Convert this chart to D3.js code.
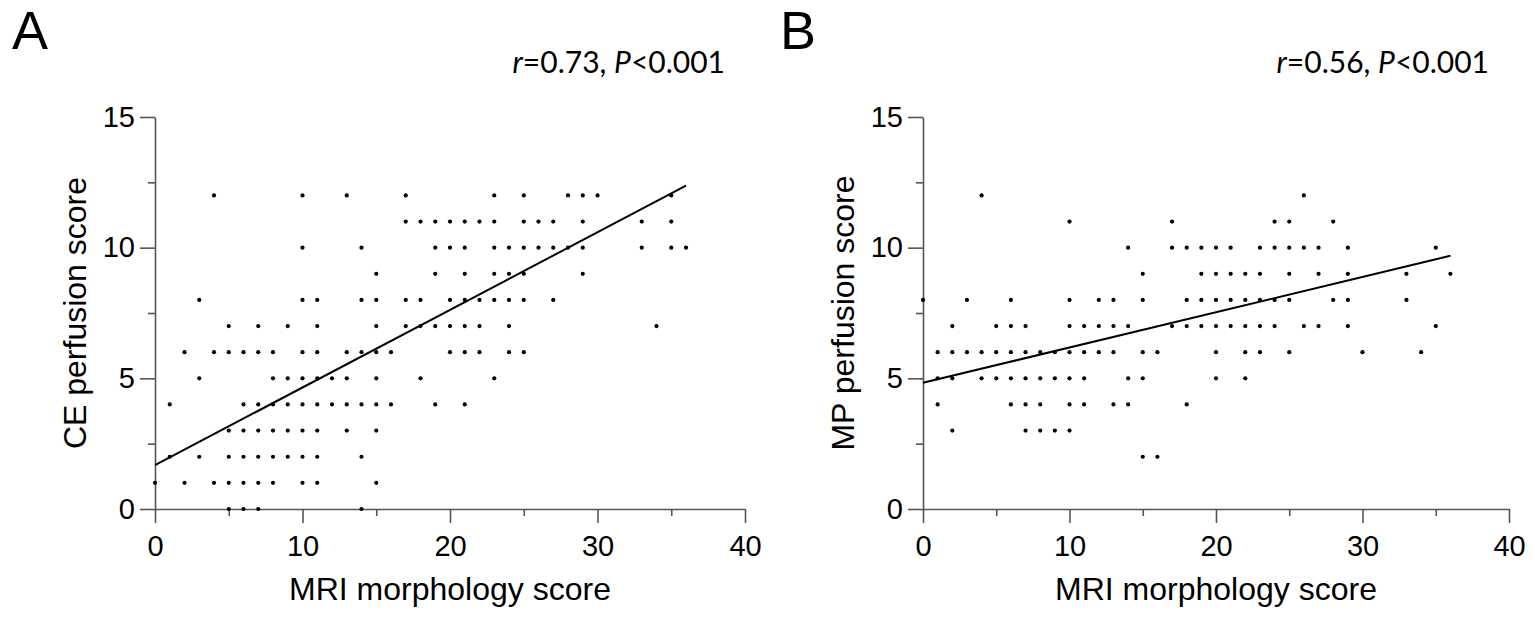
<!DOCTYPE html>
<html>
<head>
<meta charset="utf-8">
<script src="https://cdn.jsdelivr.net/npm/d3@7"></script>
<style>
  body { margin: 0; background: #fff; }
  text { font-family: "Liberation Sans", Arial, sans-serif; fill: #000; }
</style>
</head>
<body>
<div id="chart"></div>
<script>
// MRI morphology score vs CE perfusion score, panel A  ([x, y])
var pointsA = [
  [4,12],[10,12],[13,12],[17,12],[23,12],[25,12],[28,12],[29,12],[30,12],[35,12],
  [17,11],[18,11],[19,11],[20,11],[21,11],[22,11],[23,11],[25,11],[26,11],[27,11],[29,11],[33,11],[35,11],
  [10,10],[14,10],[19,10],[20,10],[21,10],[23,10],[24,10],[25,10],[26,10],[27,10],[28,10],[29,10],[33,10],[35,10],[36,10],
  [15,9],[19,9],[21,9],[23,9],[24,9],[25,9],[29,9],
  [3,8],[10,8],[11,8],[14,8],[15,8],[17,8],[18,8],[20,8],[21,8],[22,8],[23,8],[24,8],[25,8],[27,8],
  [5,7],[7,7],[9,7],[11,7],[15,7],[17,7],[18,7],[19,7],[20,7],[21,7],[22,7],[24,7],[34,7],
  [2,6],[4,6],[5,6],[6,6],[7,6],[8,6],[10,6],[11,6],[13,6],[14,6],[15,6],[16,6],[20,6],[21,6],[22,6],[24,6],[25,6],
  [3,5],[8,5],[9,5],[10,5],[11,5],[12,5],[13,5],[15,5],[18,5],[23,5],
  [1,4],[6,4],[7,4],[8,4],[9,4],[10,4],[11,4],[12,4],[13,4],[14,4],[15,4],[16,4],[19,4],[21,4],
  [5,3],[6,3],[7,3],[8,3],[9,3],[10,3],[11,3],[13,3],[15,3],
  [1,2],[3,2],[5,2],[6,2],[7,2],[8,2],[9,2],[10,2],[11,2],[14,2],
  [0,1],[2,1],[4,1],[5,1],[6,1],[7,1],[8,1],[10,1],[11,1],[15,1],
  [5,0],[6,0],[7,0],[14,0]
];

// MRI morphology score vs MP perfusion score, panel B
var pointsB = [
  [4,12],[26,12],
  [10,11],[17,11],[24,11],[25,11],[28,11],
  [14,10],[17,10],[18,10],[19,10],[20,10],[21,10],[23,10],[24,10],[25,10],[26,10],[27,10],[29,10],[35,10],
  [15,9],[19,9],[20,9],[21,9],[22,9],[23,9],[25,9],[27,9],[29,9],[33,9],[36,9],
  [0,8],[3,8],[6,8],[10,8],[12,8],[13,8],[15,8],[18,8],[19,8],[20,8],[21,8],[22,8],[23,8],[24,8],[25,8],[28,8],[29,8],[33,8],
  [2,7],[5,7],[6,7],[7,7],[10,7],[11,7],[12,7],[13,7],[14,7],[17,7],[18,7],[19,7],[20,7],[21,7],[22,7],[23,7],[24,7],[26,7],[27,7],[29,7],[35,7],
  [1,6],[2,6],[3,6],[4,6],[5,6],[6,6],[7,6],[8,6],[9,6],[10,6],[11,6],[12,6],[13,6],[15,6],[16,6],[20,6],[22,6],[23,6],[25,6],[30,6],[34,6],
  [1,5],[2,5],[4,5],[5,5],[6,5],[7,5],[8,5],[9,5],[10,5],[11,5],[14,5],[15,5],[20,5],[22,5],
  [1,4],[6,4],[7,4],[8,4],[10,4],[11,4],[13,4],[14,4],[18,4],
  [2,3],[7,3],[8,3],[9,3],[10,3],
  [15,2],[16,2]
];

// fitted lines: [intercept, slope, xEnd]
var fitA = [1.68, 0.297, 36];
var fitB = [4.83, 0.135, 36];

var xMajor = [0, 10, 20, 30, 40],
    xMinor = [5, 15, 25, 35],
    yMajor = [0, 5, 10, 15],
    yMinor = [2.5, 7.5, 12.5];

var panels = [
  {letter: "A", left: 155, right: 745, ylabel: "CE perfusion score", stat: ["r", "=0.73, ", "P", "<0.001"], pts: pointsA, fit: fitA},
  {letter: "B", left: 923, right: 1509, ylabel: "MP perfusion score", stat: ["r", "=0.56, ", "P", "<0.001"], pts: pointsB, fit: fitB}
];

var width = 1535,
    height = 618,
    yTop = 117,
    yBottom = 509;

var svg = d3.select('#chart')
    .append('svg')
    .attr('width', width)
    .attr('height', height);

panels.forEach(function(p) {
    var x = d3.scaleLinear().domain([0, 40]).range([p.left, p.right]);
    var y = d3.scaleLinear().domain([0, 15]).range([yBottom, yTop]);
    var g = svg.append('g');

    // axes: labelled major ticks + short minor ticks
    g.append('g').attr('transform', 'translate(0,' + yBottom + ')')
        .call(d3.axisBottom(x).tickValues(xMajor).tickSize(14).tickPadding(12).tickSizeOuter(0));
    g.append('g').attr('transform', 'translate(0,' + yBottom + ')')
        .call(d3.axisBottom(x).tickValues(xMinor).tickSize(7).tickFormat('').tickSizeOuter(0))
        .select('.domain').remove();
    g.append('g').attr('transform', 'translate(' + p.left + ',0)')
        .call(d3.axisLeft(y).tickValues(yMajor).tickSize(15).tickPadding(5).tickSizeOuter(0));
    g.append('g').attr('transform', 'translate(' + p.left + ',0)')
        .call(d3.axisLeft(y).tickValues(yMinor).tickSize(7).tickFormat('').tickSizeOuter(0))
        .select('.domain').remove();

    g.selectAll('.domain, .tick line').attr('stroke', '#555').attr('stroke-width', 1.6);
    g.selectAll('.tick text')
        .attr('font-family', '"Liberation Sans", Arial, sans-serif')
        .attr('font-size', 29)
        .attr('fill', '#000');

    // points
    g.selectAll('circle')
        .data(p.pts)
        .enter().append('circle')
        .attr('cx', function(d) { return x(d[0]); })
        .attr('cy', function(d) { return y(d[1]); })
        .attr('r', 2.1)
        .attr('fill', '#000');

    // regression line
    g.append('line')
        .attr('x1', x(0)).attr('y1', y(p.fit[0]))
        .attr('x2', x(p.fit[2])).attr('y2', y(p.fit[0] + p.fit[1] * p.fit[2]))
        .attr('stroke', '#000').attr('stroke-width', 2);

    // axis titles
    g.append('text')
        .attr('x', (p.left + p.right) / 2)
        .attr('y', 600)
        .attr('text-anchor', 'middle')
        .attr('font-size', 32)
        .text('MRI morphology score');
    g.append('text')
        .attr('transform', 'translate(' + (p.left - 69) + ',' + ((yTop + yBottom) / 2) + ') rotate(-90)')
        .attr('text-anchor', 'middle')
        .attr('font-size', 32)
        .text(p.ylabel);

    // panel letter
    g.append('text')
        .attr('x', p.left - 143)
        .attr('y', 49)
        .attr('font-size', 54)
        .text(p.letter);

    // correlation
    var st = g.append('text')
        .attr('x', p.right - 20)
        .attr('y', 73)
        .attr('text-anchor', 'end')
        .attr('font-size', 30)
        .style('font-family', 'Lato, "Open Sans", sans-serif');
    st.append('tspan').attr('font-style', 'italic').text(p.stat[0]);
    st.append('tspan').text(p.stat[1]);
    st.append('tspan').attr('font-style', 'italic').text(p.stat[2]);
    st.append('tspan').text(p.stat[3]);
});
</script>
</body>
</html>
